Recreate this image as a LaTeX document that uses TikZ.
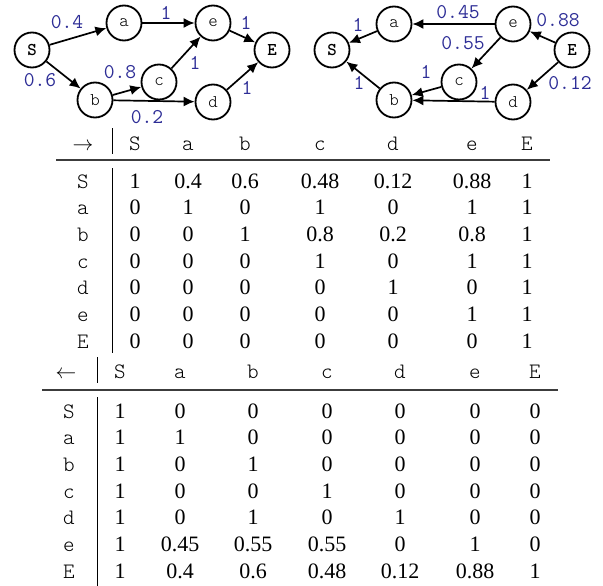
\documentclass[tikz,border=0pt]{standalone}
\usepackage{fontspec}
\setmainfont{Liberation Serif}
\usetikzlibrary{arrows.meta}
\definecolor{lblue}{RGB}{45,45,150}
\definecolor{rulegray}{RGB}{60,60,60}
\tikzset{
 vert/.style={circle,draw,line width=1.8pt,minimum size=35pt,inner sep=0pt,font=\fontsize{18}{18}\ttfamily\fontseries{l}\selectfont},
 bvert/.style={vert,font=\fontsize{18}{18}\ttfamily\bfseries\selectfont},
 edge/.style={line width=1.7pt,-{Latex[length=11pt,width=10pt]}},
 wt/.style={text=lblue,font=\fontsize{21}{21}\ttfamily\selectfont,inner sep=0pt},
 hdr/.style={font=\fontsize{22}{22}\ttfamily\fontseries{l}\selectfont,inner sep=0pt,anchor=base},
 val/.style={font=\fontsize{22}{22}\selectfont,inner sep=0pt,anchor=base},
 vrule/.style={line width=0.8pt},
 hrule/.style={line width=2.2pt,draw=rulegray}
}
\begin{document}
\begin{tikzpicture}[x=1pt,y=-1pt]
\useasboundingbox (0,0) rectangle (603,586);
% ---------- left graph ----------
\node[bvert] (lS) at (32,50) {S};
\node[vert] (la) at (124,23) {a};
\node[vert] (le) at (213,23) {e};
\node[bvert] (lE) at (272,50) {E};
\node[vert] (lb) at (95,100) {b};
\node[vert] (lc) at (159,82) {c};
\node[vert] (ld) at (213,102) {d};
\draw[edge] (lS) -- (la);
\draw[edge] (lS) -- (lb);
\draw[edge] (la) -- (le);
\draw[edge] (lb) -- (lc);
\draw[edge] (lb) -- (ld);
\draw[edge] (lc) -- (le);
\draw[edge] (le) -- (lE);
\draw[edge] (ld) -- (lE);
\node[wt] (lw1) at (67,22) {0.4};
\node[wt] (lw2) at (40,80) {0.6};
\node[wt] (lw3) at (166,13) {1};
\node[wt] (lw4) at (120,72) {0.8};
\node[wt] (lw5) at (147,117) {0.2};
\node[wt] (lw6) at (195,63) {1};
\node[wt] (lw7) at (246,23) {1};
\node[wt] (lw8) at (247,88) {1};
% ---------- right graph ----------
\node[bvert] (rS) at (332,50) {S};
\node[vert] (ra) at (394,24) {a};
\node[vert] (re) at (513,24) {e};
\node[bvert] (rE) at (572,50) {E};
\node[vert] (rb) at (394,100) {b};
\node[vert] (rc) at (459,82) {c};
\node[vert] (rd) at (513,102) {d};
\draw[edge] (ra) -- (rS);
\draw[edge] (rb) -- (rS);
\draw[edge] (re) -- (ra);
\draw[edge] (re) -- (rc);
\draw[edge] (rc) -- (rb);
\draw[edge] (rd) -- (rb);
\draw[edge] (rE) -- (re);
\draw[edge] (rE) -- (rd);
\node[wt] (rw1) at (358,25) {1};
\node[wt] (rw2) at (359,83) {1};
\node[wt] (rw3) at (458,12) {0.45};
\node[wt] (rw4) at (463,43) {0.55};
\node[wt] (rw5) at (426,72) {1};
\node[wt] (rw6) at (485,93) {1};
\node[wt] (rw7) at (558,20) {0.88};
\node[wt] (rw8) at (570,83) {0.12};
% ---------- table 1 ----------
\def\colsA{{135,188,245,320,393,472,527}}
\node[val] (t1h) at (83,150) {$\rightarrow$};
\foreach \h [count=\j from 0] in {S,a,b,c,d,e,E}{
  \pgfmathsetmacro\cx{\colsA[\j]}
  \node[hdr] (t1h\j) at (\cx,150) {\h};
  \node[hdr] (t1l\j) at (83,188+26.67*\j) {\h};
}
\draw[vrule] (112,128) -- (112,154);
\draw[vrule] (112,168) -- (112,353);
\draw[hrule] (56,160) -- (550,160);
\foreach \row [count=\i from 0] in {{1,0.4,0.6,0.48,0.12,0.88,1},{0,1,0,1,0,1,1},{0,0,1,0.8,0.2,0.8,1},{0,0,0,1,0,1,1},{0,0,0,0,1,0,1},{0,0,0,0,0,1,1},{0,0,0,0,0,0,1}}{
  \foreach \v [count=\j from 0] in \row {
    \pgfmathsetmacro\cx{\colsA[\j]}
    \node[val] (t1-\i-\j) at (\cx,188+26.67*\i) {\v};
  }
}
% ---------- table 2 ----------
\def\colsB{{120,180,253,327,400,475,535}}
\node[val] (t2h) at (66,378) {$\leftarrow$};
\foreach \h [count=\j from 0] in {S,a,b,c,d,e,E}{
  \pgfmathsetmacro\cx{\colsB[\j]}
  \node[hdr] (t2h\j) at (\cx,378) {\h};
  \node[hdr] (t2l\j) at (69,418+26.67*\j) {\h};
}
\draw[vrule] (97,357) -- (97,383);
\draw[vrule] (97,397) -- (97,586);
\draw[hrule] (42,390) -- (558,390);
\foreach \row [count=\i from 0] in {{1,0,0,0,0,0,0},{1,1,0,0,0,0,0},{1,0,1,0,0,0,0},{1,0,0,1,0,0,0},{1,0,1,0,1,0,0},{1,0.45,0.55,0.55,0,1,0},{1,0.4,0.6,0.48,0.12,0.88,1}}{
  \foreach \v [count=\j from 0] in \row {
    \pgfmathsetmacro\cx{\colsB[\j]}
    \node[val] (t2-\i-\j) at (\cx,418+26.67*\i) {\v};
  }
}
\end{tikzpicture}
\end{document}
